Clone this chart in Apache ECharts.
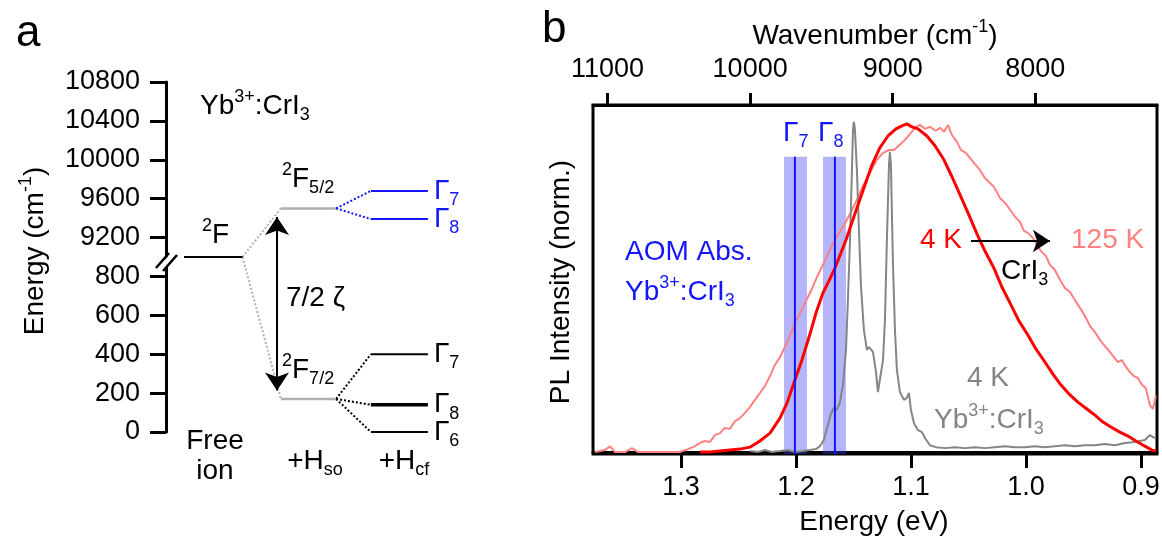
<!DOCTYPE html>
<html><head><meta charset="utf-8">
<script src="https://cdn.jsdelivr.net/npm/echarts@6/dist/echarts.min.js"></script>
<style>html,body{margin:0;padding:0;background:#fff}#c{width:1162px;height:541px}</style>
</head><body><div id="c"></div>
<script>
// ================= Panel a : energy levels (cm^-1) =================
const tickLabelsA = ['0','200','400','600','800','9200','9600','10000','10400','10800'];
const soEnergies = { F52: 9500, F72: 170 };               // 2F5/2, 2F7/2
const cfUpperNames = ['7','8'];                           // Γ7, Γ8 of 2F5/2 (AOM)
const cfUpperEnergies = [9680, 9390];
const cfLowerNames = ['7','8','6'];                        // Γ7, Γ8, Γ6 of 2F7/2
const cfLowerEnergies = [400, 140, 0];

// ================= Panel b : PL spectra =================
const energyTicks = [0.9, 1.0, 1.1, 1.2, 1.3];
const wavenumberTicks = [8000, 9000, 10000, 11000];
const aomLines = [1.2009, 1.1661];            // Γ7, Γ8 (eV)
const aomBands = [[1.2104, 1.1904], [1.1765, 1.1565]];
const aomBandTop = 0.905;
const crI3_4K = [[1.2835,0],[1.2748,0],[1.2661,0.003],[1.2574,0.006],[1.2487,0.009],[1.2400,0.015],[1.2313,0.034],[1.2226,0.058],[1.2139,0.104],[1.2078,0.150],[1.2009,0.221],[1.1948,0.282],[1.1878,0.362],[1.1826,0.426],[1.1765,0.488],[1.1713,0.525],[1.1661,0.564],[1.1565,0.650],[1.1470,0.748],[1.1400,0.819],[1.1339,0.880],[1.1270,0.933],[1.1200,0.969],[1.1130,0.991],[1.1078,1.000],[1.1035,1.006],[1.0991,0.997],[1.0939,0.991],[1.0861,0.969],[1.0791,0.939],[1.0713,0.896],[1.0643,0.844],[1.0565,0.782],[1.0496,0.727],[1.0426,0.669],[1.0357,0.617],[1.0278,0.564],[1.0209,0.506],[1.0130,0.451],[1.0061,0.402],[0.9983,0.359],[0.9913,0.316],[0.9835,0.276],[0.9765,0.239],[0.9696,0.206],[0.9617,0.175],[0.9548,0.153],[0.9470,0.132],[0.9400,0.113],[0.9330,0.092],[0.9261,0.077],[0.9183,0.061],[0.9113,0.049],[0.9043,0.034],[0.8965,0.018],[0.8904,0.006],[0.8870,0.003]];
const crI3_125K = [[1.3748,0],[1.3661,0.006],[1.3617,0.018],[1.3574,0],[1.3487,0],[1.3426,0.012],[1.3374,0],[1.3270,0],[1.3139,0],[1.3009,0],[1.2939,0.009],[1.2878,0.018],[1.2835,0.028],[1.2791,0.034],[1.2748,0.031],[1.2704,0.052],[1.2661,0.058],[1.2617,0.074],[1.2574,0.071],[1.2530,0.095],[1.2487,0.104],[1.2443,0.120],[1.2400,0.138],[1.2357,0.160],[1.2313,0.181],[1.2270,0.202],[1.2226,0.233],[1.2183,0.267],[1.2139,0.291],[1.2096,0.322],[1.2052,0.356],[1.2009,0.396],[1.1965,0.426],[1.1913,0.463],[1.1861,0.500],[1.1809,0.543],[1.1757,0.580],[1.1704,0.620],[1.1652,0.656],[1.1591,0.690],[1.1530,0.730],[1.1470,0.773],[1.1417,0.816],[1.1357,0.856],[1.1296,0.896],[1.1243,0.917],[1.1191,0.926],[1.1148,0.926],[1.1096,0.942],[1.1052,0.957],[1.1009,0.975],[1.0965,0.994],[1.0922,1.003],[1.0878,0.991],[1.0835,0.997],[1.0783,0.985],[1.0748,0.994],[1.0713,0.982],[1.0678,1.003],[1.0643,0.972],[1.0600,0.951],[1.0565,0.926],[1.0522,0.917],[1.0487,0.902],[1.0443,0.883],[1.0400,0.865],[1.0357,0.840],[1.0313,0.825],[1.0278,0.813],[1.0226,0.779],[1.0174,0.761],[1.0130,0.739],[1.0087,0.718],[1.0052,0.706],[1.0017,0.678],[0.9983,0.672],[0.9939,0.656],[0.9896,0.629],[0.9861,0.613],[0.9826,0.601],[0.9791,0.574],[0.9748,0.558],[0.9704,0.528],[0.9661,0.503],[0.9617,0.491],[0.9574,0.466],[0.9530,0.442],[0.9487,0.417],[0.9443,0.387],[0.9400,0.368],[0.9357,0.344],[0.9313,0.325],[0.9270,0.307],[0.9235,0.291],[0.9200,0.276],[0.9165,0.282],[0.9130,0.261],[0.9096,0.245],[0.9061,0.233],[0.9026,0.227],[0.8991,0.206],[0.8957,0.196],[0.8922,0.144],[0.8896,0.132],[0.8870,0.172]];
const ybCrI3_4K = [[1.2400,0.003],[1.2330,0],[1.2270,0.006],[1.2209,0],[1.2139,0.003],[1.2070,0.006],[1.2009,0],[1.1939,0.003],[1.1878,0.006],[1.1826,0.009],[1.1791,0.018],[1.1757,0.037],[1.1722,0.083],[1.1696,0.117],[1.1670,0.135],[1.1643,0.129],[1.1617,0.153],[1.1591,0.206],[1.1565,0.313],[1.1548,0.466],[1.1530,0.650],[1.1513,0.865],[1.1504,0.988],[1.1496,1.012],[1.1487,0.988],[1.1470,0.865],[1.1452,0.681],[1.1435,0.512],[1.1409,0.374],[1.1383,0.313],[1.1365,0.322],[1.1348,0.328],[1.1330,0.307],[1.1304,0.245],[1.1287,0.184],[1.1270,0.190],[1.1243,0.282],[1.1226,0.405],[1.1209,0.650],[1.1191,0.880],[1.1183,0.920],[1.1174,0.880],[1.1157,0.589],[1.1139,0.374],[1.1122,0.252],[1.1096,0.184],[1.1061,0.160],[1.1035,0.166],[1.1017,0.181],[1.1000,0.129],[1.0974,0.089],[1.0939,0.067],[1.0904,0.061],[1.0878,0.043],[1.0835,0.021],[1.0783,0.015],[1.0704,0.012],[1.0617,0.015],[1.0530,0.012],[1.0443,0.015],[1.0357,0.012],[1.0270,0.015],[1.0183,0.018],[1.0096,0.015],[1.0009,0.015],[0.9922,0.018],[0.9835,0.015],[0.9748,0.018],[0.9661,0.021],[0.9574,0.018],[0.9487,0.021],[0.9400,0.021],[0.9313,0.025],[0.9226,0.021],[0.9139,0.028],[0.9052,0.031],[0.8965,0.037],[0.8922,0.052],[0.8878,0.043]];
const tempArrow = { from: 1.0478, to: 0.9791, intensity: 0.647 };

// ---------------- helpers ----------------
const EV_TO_CM = 8065.54;
const eMin = 0.886, eMax = 1.3765;
const FONT = "'Liberation Sans', Arial, Helvetica, sans-serif";
const BLUE = '#1414ff', RED = '#ff0000', PALE = '#ff8080', GRAY = '#858585', LGRAY = '#b0b0b0';
// broken energy axis of panel a: 0-800 (step 200) below, 9200-10800 (step 400) above
function axA(E) { return E === null ? 4.5 : (E <= 800 ? E / 200 : 5 + (E - 9200) / 400); }
const colA = { free: [0.6, 2.55], so: [3.83, 5.67], cf: [6.83, 8.73], arrow: 3.7 };

function rich(color, size) {
  const s = size || 28, ss = Math.round(s * 0.66);
  return {
    sup: { fontSize: ss, lineHeight: ss, verticalAlign: 'top', fill: color, color: color, fontFamily: FONT },
    sub: { fontSize: ss, lineHeight: ss, verticalAlign: 'bottom', fill: color, color: color, fontFamily: FONT }
  };
}
function txt(x, y, text, o) {
  o = o || {};
  const c = o.color || '#000', s = o.size || 28;
  return { type: 'text', x: x, y: y, rotation: o.rot || 0, z: 100,
    style: { text: text, fill: c, fontSize: s, fontFamily: FONT, lineHeight: o.lh || 36,
      align: o.align || 'left', verticalAlign: 'middle', rich: rich(c, s) } };
}
function seg(xs, y, color, width, type, extra) {
  return Object.assign({ type: 'line', xAxisIndex: 2, yAxisIndex: 1, symbol: 'none', silent: true,
    data: [[xs[0], y], [xs[1], y]], lineStyle: { color: color, width: width, type: type || 'solid' }, z: 3 }, extra || {});
}
function conn(x0, y0, x1, y1, color) {
  return { type: 'line', xAxisIndex: 2, yAxisIndex: 1, symbol: 'none', silent: true,
    data: [[x0, y0], [x1, y1]], lineStyle: { color: color, width: 2, type: [2, 2] }, z: 2 };
}
function gammaLabel(n, color) {
  return { show: true, distance: 6, formatter: 'Γ{sub|' + n + '}', color: color, fontSize: 28,
    fontFamily: FONT, lineHeight: 36, rich: rich(color, 28) };
}

const series = [];
// ---- panel a ----
const p2F = axA(null), p52 = axA(soEnergies.F52), p72 = axA(soEnergies.F72);
series.push(seg(colA.free, p2F, '#000', 2));
series.push(seg(colA.so, p52, LGRAY, 2.5));
series.push(seg(colA.so, p72, LGRAY, 2.5));
series.push(conn(colA.free[1], p2F, colA.so[0], p52, LGRAY));
series.push(conn(colA.free[1], p2F, colA.so[0], p72, LGRAY));
cfUpperEnergies.forEach(function (E, i) {
  series.push(seg(colA.cf, axA(E), BLUE, 2, 'solid', { endLabel: gammaLabel(cfUpperNames[i], BLUE) }));
  series.push(conn(colA.so[1], p52, colA.cf[0], axA(E), BLUE));
});
cfLowerEnergies.forEach(function (E, i) {
  series.push(seg(colA.cf, axA(E), '#000', cfLowerNames[i] === '8' ? 3.5 : 2, 'solid', { endLabel: gammaLabel(cfLowerNames[i], '#000') }));
  series.push(conn(colA.so[1], p72, colA.cf[0], axA(E), '#000'));
});
series.push({ type: 'lines', coordinateSystem: 'cartesian2d', xAxisIndex: 2, yAxisIndex: 1, silent: true, z: 4,
  symbol: ['arrow', 'arrow'], symbolSize: 18,
  data: [{ coords: [[colA.arrow, p52 - 0.22], [colA.arrow, p72 + 0.22]] }],
  lineStyle: { color: '#000', width: 2, opacity: 1 }, itemStyle: { color: '#000', opacity: 1 } });

// ---- panel b ----
series.push({ type: 'line', xAxisIndex: 0, yAxisIndex: 0, data: crI3_125K, symbol: 'none', silent: true,
  lineStyle: { color: PALE, width: 2 }, z: 2 });
series.push({ type: 'line', xAxisIndex: 0, yAxisIndex: 0, data: ybCrI3_4K, symbol: 'none', silent: true,
  lineStyle: { color: GRAY, width: 2 }, z: 3 });
series.push({ type: 'line', xAxisIndex: 0, yAxisIndex: 0, data: crI3_4K, symbol: 'none', silent: true,
  lineStyle: { color: RED, width: 3 }, z: 4 });
series.push({ type: 'line', xAxisIndex: 0, yAxisIndex: 0, data: [], symbol: 'none', silent: true, z: 6,
  markArea: { silent: true, itemStyle: { color: 'rgba(60,60,240,0.38)' },
    data: aomBands.map(function (b) { return [{ xAxis: b[0], yAxis: -0.006 }, { xAxis: b[1], yAxis: aomBandTop }]; }) } });
aomLines.forEach(function (e) {
  series.push({ type: 'line', xAxisIndex: 0, yAxisIndex: 0, symbol: 'none', silent: true, z: 7,
    data: [[e, -0.006], [e, aomBandTop]], lineStyle: { color: BLUE, width: 2 } });
});
series.push({ type: 'lines', coordinateSystem: 'cartesian2d', xAxisIndex: 0, yAxisIndex: 0, silent: true, z: 8,
  symbol: ['none', 'arrow'], symbolSize: 17,
  data: [{ coords: [[tempArrow.from, tempArrow.intensity], [tempArrow.to, tempArrow.intensity]] }],
  lineStyle: { color: '#000', width: 2, opacity: 1 }, itemStyle: { color: '#000', opacity: 1 } });

const axisFont = { color: '#000', fontSize: 27, fontFamily: FONT };
const option = {
  animation: false,
  backgroundColor: '#fff',
  grid: [
    { left: 593, top: 105, width: 564, height: 349, show: true, borderColor: '#000', borderWidth: 3, backgroundColor: 'transparent', outerBoundsMode: 'none' },
    { left: 166, top: 82, width: 300, height: 350, outerBoundsMode: 'none' }
  ],
  xAxis: [
    { gridIndex: 0, type: 'value', position: 'bottom', inverse: true, min: eMin, max: eMax,
      axisLine: { show: true, lineStyle: { color: '#000', width: 3 } },
      axisTick: { show: true, inside: false, length: 16, customValues: energyTicks, lineStyle: { color: '#000', width: 3 } },
      axisLabel: Object.assign({ margin: 20, customValues: energyTicks, formatter: function (v) { return v.toFixed(1); } }, axisFont),
      splitLine: { show: false } },
    { gridIndex: 0, type: 'value', position: 'top', inverse: true, min: eMin * EV_TO_CM, max: eMax * EV_TO_CM,
      axisLine: { show: true, lineStyle: { color: '#000', width: 3 } },
      axisTick: { show: true, inside: false, length: 12, customValues: wavenumberTicks, lineStyle: { color: '#000', width: 3 } },
      axisLabel: Object.assign({ margin: 22, customValues: wavenumberTicks, formatter: function (v) { return String(Math.round(v)); } }, axisFont),
      splitLine: { show: false } },
    { gridIndex: 1, type: 'value', min: 0, max: 10, show: false }
  ],
  yAxis: [
    { gridIndex: 0, type: 'value', min: -0.006, max: 1.064, axisLine: { show: false }, axisTick: { show: false },
      axisLabel: { show: false }, splitLine: { show: false } },
    { gridIndex: 1, type: 'value', min: 0, max: 9, interval: 1,
      axisLine: { show: true, lineStyle: { color: '#000', width: 3 } },
      axisTick: { show: true, inside: false, length: 16, lineStyle: { color: '#000', width: 3 } },
      axisLabel: Object.assign({ margin: 26, formatter: function (v) { return tickLabelsA[Math.round(v)]; } }, axisFont),
      splitLine: { show: false } }
  ],
  series: series,
  graphic: [
    // panel a
    txt(16, 34, 'a', { size: 44 }),
    txt(35, 251, 'Energy (cm{sup|-1})', { rot: Math.PI / 2, align: 'center' }),
    txt(200, 106, 'Yb{sup|3+}:CrI{sub|3}'),
    txt(202, 235, '{sup|2}F'),
    txt(282, 179, '{sup|2}F{sub|5/2}'),
    txt(282, 370, '{sup|2}F{sub|7/2}'),
    txt(286, 298, '7/2 ζ'),
    txt(215, 456, 'Free\nion', { align: 'center', lh: 30 }),
    txt(315, 461, '+H{sub|so}', { align: 'center' }),
    txt(404, 461, '+H{sub|cf}', { align: 'center' }),
    { type: 'polygon', z: 50, shape: { points: [[158, 268], [170, 254], [176, 256], [164, 270]] }, style: { fill: '#fff' } },
    { type: 'line', z: 51, shape: { x1: 156, y1: 268, x2: 169, y2: 253 }, style: { stroke: '#000', lineWidth: 2.5 } },
    { type: 'line', z: 51, shape: { x1: 163, y1: 271, x2: 177, y2: 255 }, style: { stroke: '#000', lineWidth: 2.5 } },
    // panel b
    txt(542, 30, 'b', { size: 44 }),
    txt(875, 36, 'Wavenumber (cm{sup|-1})', { align: 'center' }),
    txt(874, 522, 'Energy (eV)', { align: 'center' }),
    txt(561, 282, 'PL Intensity (norm.)', { rot: Math.PI / 2, align: 'center' }),
    txt(783, 133, 'Γ{sub|7}', { color: BLUE }),
    txt(818, 133, 'Γ{sub|8}', { color: BLUE }),
    txt(625, 252, 'AOM Abs.', { color: BLUE }),
    txt(625, 292, 'Yb{sup|3+}:CrI{sub|3}', { color: BLUE }),
    txt(920, 240, '4 K', { color: RED }),
    txt(1071, 240, '125 K', { color: PALE }),
    txt(1001, 271, 'CrI{sub|3}'),
    txt(967, 378, '4 K', { color: GRAY }),
    txt(934, 420, 'Yb{sup|3+}:CrI{sub|3}', { color: GRAY })
  ]
};
const chart = echarts.init(document.getElementById('c'), null, { renderer: 'canvas' });
chart.setOption(option);
</script></body></html>
